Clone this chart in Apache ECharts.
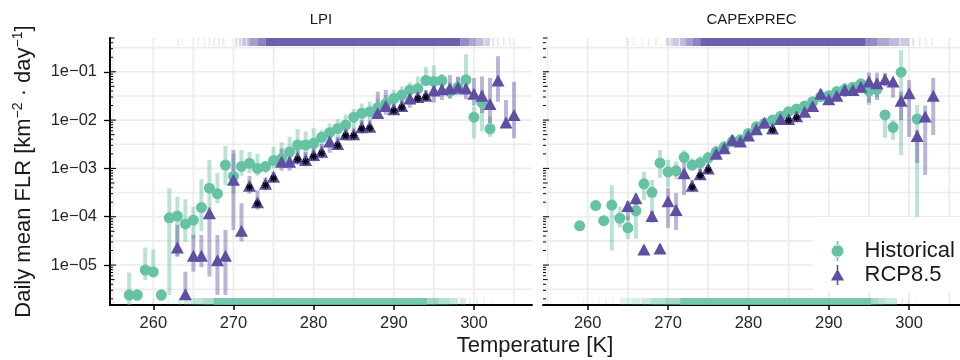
<!DOCTYPE html>
<html>
<head>
<meta charset="utf-8">
<script src="https://cdn.jsdelivr.net/npm/echarts@6/dist/echarts.min.js"></script>
<style>
  html, body { margin: 0; padding: 0; background: #ffffff; }
  #chart { width: 960px; height: 360px; }
</style>
</head>
<body>
<div id="chart"></div>
<script>
// ---------- LPI panel ----------
const lpiHistTemp = [257,258,259,260,261,262,263,264,265,266,267,268,269,270,271,272,273,274,275,276,277,278,279,280,281,282,283,284,285,286,287,288,289,290,291,292,293,294,295,296,297,298,299,300,301,302];
const lpiHistFlr  = [2.4e-6,2.4e-6,7.9e-6,7.2e-6,2.4e-6,9.5e-5,1.03e-4,7.1e-5,8.5e-5,1.55e-4,3.9e-4,3.0e-4,1.17e-3,6.9e-4,1.1e-3,1.28e-3,1.0e-3,1.1e-3,1.45e-3,1.6e-3,2.2e-3,3.05e-3,3.05e-3,3.3e-3,4.4e-3,5.5e-3,6.7e-3,7.9e-3,1.15e-2,1.38e-2,1.49e-2,1.8e-2,2.2e-2,2.8e-2,3.3e-2,4.2e-2,4.5e-2,6.6e-2,6.3e-2,6.6e-2,3.9e-2,4.8e-2,6.8e-2,1.15e-2,2.3e-2,6.6e-3];
const lpiHistLow  = [1.0e-6,1.8e-6,4.9e-6,5.6e-6,1.8e-6,2.4e-6,1.5e-5,3.0e-5,3.5e-5,5e-5,1.6e-4,1.9e-4,4.5e-4,3.0e-4,7e-4,8e-4,7e-4,8e-4,1.0e-3,1.1e-3,1.5e-3,1.8e-3,1.5e-3,1.75e-3,2.2e-3,3.2e-3,3.9e-3,5e-3,7e-3,8.5e-3,1.0e-2,1.2e-2,1.5e-2,1.9e-2,2.3e-2,3.0e-2,3.2e-2,5.3e-2,4.5e-2,5e-2,2.8e-2,3.5e-2,4.6e-2,4.2e-3,5.8e-3,4.5e-3];
const lpiHistHigh = [7e-6,3.2e-6,2.3e-5,2.1e-5,3.2e-6,3.9e-4,2.6e-4,2.3e-4,1.6e-4,6e-4,1.5e-3,8e-4,2.9e-3,2.0e-3,2.4e-3,2.2e-3,2.0e-3,1.4e-3,2.8e-3,3.5e-3,4.5e-3,6.5e-3,5.8e-3,6.8e-3,6.2e-3,8.5e-3,1.05e-2,1.3e-2,1.7e-2,2.2e-2,2.4e-2,2.8e-2,3.3e-2,4.2e-2,5e-2,6e-2,8e-2,1.25e-1,1.35e-1,9e-2,6e-2,8e-2,2.3e-1,1.9e-2,4.2e-2,1.2e-2];

const lpiRcpTemp = [263,264,265,266,267,268,269,270,271,272,273,274,275,276,277,278,279,280,281,282,283,284,285,286,287,288,289,290,291,292,293,294,295,296,297,298,299,300,301,302,303,304,305];
const lpiRcpFlr  = [2.3e-5,2.5e-6,1.55e-5,1.55e-5,1.18e-4,1.26e-5,1.55e-5,5.8e-4,5.1e-5,4.4e-4,2.0e-4,4.8e-4,6.7e-4,1.38e-3,1.38e-3,1.66e-3,1.5e-3,1.9e-3,2.2e-3,3.6e-3,3.2e-3,5.1e-3,5.1e-3,7.1e-3,7.3e-3,1.4e-2,1.96e-2,1.67e-2,1.96e-2,2.8e-2,3.0e-2,3.2e-2,4.1e-2,4.35e-2,4.5e-2,4.8e-2,4.5e-2,3.5e-2,3.2e-2,2.15e-2,6.6e-2,8.9e-3,1.28e-2];
const lpiRcpLow  = [1.5e-5,1.9e-6,7.3e-6,9e-6,5.8e-6,2.4e-6,2.4e-6,5.3e-5,3.1e-5,3.0e-4,1.4e-4,3.5e-4,5.5e-4,9e-4,9e-4,1.2e-3,1.1e-3,1.4e-3,1.6e-3,2.1e-3,2.4e-3,3.8e-3,3.8e-3,5.3e-3,5.5e-3,1.1e-2,1.3e-2,1.3e-2,1.5e-2,1.8e-2,2.3e-2,2.5e-2,2.3e-2,2.6e-2,2.8e-2,3.3e-2,2.7e-2,2.0e-2,1.4e-2,8.7e-3,2.4e-2,7e-3,4.2e-3];
const lpiRcpHigh = [6.8e-5,7.3e-6,4.2e-5,4.2e-5,1.6e-4,4.2e-5,5.3e-5,2.4e-3,1.9e-4,7e-4,3.5e-4,6.5e-4,8.5e-4,2.6e-3,2.4e-3,2.5e-3,2.2e-3,2.8e-3,3.2e-3,6.9e-3,4.5e-3,7e-3,7e-3,1.0e-2,1.0e-2,3.9e-2,4.2e-2,2.3e-2,2.7e-2,5e-2,4e-2,4.2e-2,7.9e-2,8.5e-2,8.5e-2,7.8e-2,7e-2,7.4e-2,8e-2,7.5e-2,2.1e-1,2.6e-2,6.2e-2];
// temperatures where the RCP8.5 change is significant (asterisk)
const lpiRcpSignif = [272,273,274,275,278,279,280,281,283,284,285,286,287,290,291,293,294];

// ---------- CAPExPREC panel ----------
const capeHistTemp = [259,261,262,263,264,265,266,267,268,269,270,271,272,273,274,275,276,277,278,279,280,281,282,283,284,285,286,287,288,289,290,291,292,293,294,295,296,297,298,299,301];
const capeHistFlr  = [6.5e-5,1.7e-4,8.3e-5,1.74e-4,9.3e-5,5.9e-5,1.33e-4,4.8e-4,3.2e-4,1.3e-3,8.5e-4,8.9e-4,1.7e-3,1.17e-3,1.3e-3,1.66e-3,2.2e-3,2.8e-3,3.6e-3,3.9e-3,5.3e-3,7.3e-3,8.5e-3,1.0e-2,1.2e-2,1.49e-2,1.7e-2,1.96e-2,2.4e-2,3.05e-2,3.2e-2,3.9e-2,4.3e-2,4.8e-2,5.6e-2,4.0e-2,4.35e-2,1.28e-2,7.1e-3,9.8e-2,1.05e-2];
const capeHistLow  = [5.5e-5,1.45e-4,7e-5,2.0e-5,6e-5,3.5e-5,3.5e-5,2.2e-4,7.4e-5,6.4e-4,4.1e-4,6e-4,1.3e-3,9e-4,1.0e-3,1.3e-3,1.7e-3,2.2e-3,2.8e-3,3.1e-3,4.2e-3,5.8e-3,6.8e-3,8e-3,9.5e-3,1.2e-2,1.35e-2,1.55e-2,1.9e-2,2.4e-2,2.5e-2,3.1e-2,3.4e-2,3.8e-2,4.3e-2,2.05e-2,3e-2,4.3e-3,3.9e-3,1.9e-3,1.0e-4];
const capeHistHigh = [7.7e-5,2.0e-4,9.8e-5,4.5e-4,1.6e-4,1.0e-4,2.6e-4,8.5e-4,5.8e-4,2.4e-3,1.5e-3,1.4e-3,2.4e-3,1.6e-3,1.8e-3,2.2e-3,2.9e-3,3.6e-3,4.6e-3,5e-3,6.7e-3,9.2e-3,1.07e-2,1.25e-2,1.5e-2,1.85e-2,2.1e-2,2.5e-2,3.0e-2,3.9e-2,4.1e-2,5e-2,5.5e-2,6.1e-2,7.3e-2,5.3e-2,6e-2,1.6e-2,1.0e-2,2.8e-1,2.05e-2];

const capeRcpTemp = [265,266,267,268,269,270,271,272,273,274,275,276,277,278,279,280,281,282,283,284,285,286,287,288,289,290,291,292,293,294,295,296,297,298,299,300,301,302,303];
const capeRcpFlr  = [1.66e-4,2.4e-4,2.1e-5,1.03e-4,2.2e-5,2.1e-4,1.38e-4,7.9e-4,4.4e-4,7.6e-4,1.0e-3,2.0e-3,2.6e-3,3.9e-3,3.6e-3,4.8e-3,6.5e-3,8.9e-3,6.7e-3,1.05e-2,1.05e-2,1.2e-2,1.49e-2,1.96e-2,3.5e-2,2.7e-2,3.2e-2,4.2e-2,4.2e-2,4.9e-2,6.3e-2,5.8e-2,7.0e-2,6.3e-2,2.5e-2,3.6e-2,4.7e-3,1.18e-2,3.2e-2];
const capeRcpLow  = [8.5e-5,1.7e-4,1.8e-5,8e-5,1.9e-5,5.8e-5,5.3e-5,2.8e-4,3.3e-4,5.8e-4,8e-4,1.6e-3,2.1e-3,3.1e-3,2.9e-3,3.9e-3,5.2e-3,7.1e-3,5.4e-3,8.4e-3,8.5e-3,9.7e-3,1.2e-2,1.6e-2,2.6e-2,2.1e-2,2.5e-2,3.0e-2,3.2e-2,3.6e-2,2.3e-2,2.6e-2,5.0e-2,2.9e-2,1.0e-2,4.5e-3,1.3e-3,7.3e-4,4.9e-3];
const capeRcpHigh = [2.1e-4,3.0e-4,2.5e-5,1.3e-4,2.6e-5,3.9e-4,3.1e-4,1.5e-3,5.8e-4,1.0e-3,1.25e-3,2.5e-3,3.2e-3,4.9e-3,4.5e-3,6e-3,8.1e-3,1.1e-2,8.3e-3,1.3e-2,1.3e-2,1.5e-2,1.85e-2,2.45e-2,4.4e-2,3.5e-2,4.2e-2,5.8e-2,5.5e-2,6.5e-2,9.6e-2,9.6e-2,9.5e-2,7e-2,3.9e-2,6.7e-2,6.2e-3,2.0e-2,7.5e-2];
const capeRcpSignif = [273,274,275,283,285,286];

// ---------- rug: temperature bands [from, to, relative density of days] ----------
const lpiRcpRug = [[263.0,263.2,0.12],[263.5,263.6,0.08],[265.5,265.7,0.1],[266.3,266.5,0.1],[266.9,267.1,0.12],[267.5,267.7,0.1],[268.1,268.3,0.12],[268.6,268.9,0.1],[270.2,270.5,0.2],[270.7,271.0,0.25],[271.1,271.6,0.35],[271.7,272.0,0.4],[272.0,273.0,0.55],[273.0,274.0,0.7],[274.0,298.3,0.9],[298.3,299.4,0.65],[299.4,300.3,0.5],[300.3,301.2,0.38],[301.3,302.0,0.28],[302.3,302.5,0.2],[302.9,303.1,0.15],[303.6,303.8,0.12],[304.4,304.6,0.12]];
const lpiHistRug = [[258.7,258.9,0.1],[259.8,260.0,0.12],[260.8,261.0,0.12],[261.7,262.0,0.15],[262.4,262.6,0.15],[263.0,263.6,0.22],[263.8,265.0,0.3],[265.0,266.2,0.42],[266.2,267.5,0.55],[267.5,294.2,0.9],[294.2,295.6,0.65],[295.6,297.0,0.5],[297.0,298.0,0.38],[298.2,299.0,0.28],[299.4,299.6,0.2],[300.3,300.5,0.2],[301.2,301.4,0.15],[302.2,302.4,0.12]];
const capeRcpRug = [[264.8,265.0,0.1],[265.6,265.8,0.08],[266.7,266.9,0.1],[267.5,267.7,0.1],[268.4,268.6,0.12],[269.7,270.2,0.2],[270.3,270.6,0.25],[270.6,271.4,0.32],[271.5,272.2,0.4],[272.2,273.1,0.55],[273.1,274.0,0.7],[274.0,294.6,0.9],[294.6,296.0,0.65],[296.0,297.5,0.5],[297.5,298.8,0.4],[298.9,300.0,0.3],[300.4,300.6,0.2],[301.2,301.4,0.15],[302.0,302.2,0.12],[302.8,303.0,0.12]];
const capeHistRug = [[259.4,259.6,0.12],[260.5,260.7,0.1],[261.3,261.5,0.12],[262.2,262.4,0.15],[263.0,263.2,0.12],[264.0,265.5,0.2],[265.5,266.6,0.28],[266.7,267.8,0.35],[267.8,269.6,0.5],[269.6,271.5,0.62],[271.5,295.3,0.9],[295.3,296.2,0.6],[296.2,297.0,0.48],[297.0,298.5,0.35],[299.0,299.2,0.2],[299.8,300.0,0.15],[300.7,300.9,0.12]];

// ---------- axes ----------
const xTickValues = [260, 270, 280, 290, 300];
const xGridValues = [255, 260, 265, 270, 275, 280, 285, 290, 295, 300, 305];
const yTickValues = [1e-5, 1e-4, 1e-3, 1e-2, 1e-1];
const yGridExponents = [-5.5, -5, -4.5, -4, -3.5, -3, -2.5, -2, -1.5, -1, -0.5];
const yMin = 1.49e-6, yMax = 0.5;

const GREEN = '#66C2A5';
const PURPLE = '#5E4FA2';
const GREEN_BAR = 'rgba(102,194,165,0.45)';
const PURPLE_BAR = 'rgba(94,79,162,0.42)';
const FONT = '"Liberation Sans", Arial, Helvetica, sans-serif';
const INK = '#1a1a1a';

const zip2 = (a, b) => a.map((t, i) => [t, b[i]]);
const zipBars = (t, lo, hi) => t.map((v, i) => [v, lo[i], hi[i]]);
const pick = (temps, vals, sel) => sel.map(t => [t, vals[temps.indexOf(t)]]);

// log tick annotations: 1..9 x 10^e
const logTicks = [];
for (let e = -6; e <= -1; e++) {
  for (let k = 1; k <= 9; k++) {
    const v = k * Math.pow(10, e);
    if (v >= yMin && v <= yMax) logTicks.push([280, v, k]);
  }
}

function renderGrid(params, api) {
  const cs = params.coordSys;
  const kids = [];
  const st = { stroke: '#EBEBEB', lineWidth: 1.6 };
  xGridValues.forEach(t => {
    const x = api.coord([t, 1e-3])[0];
    if (x > cs.x + 1 && x <= cs.x + cs.width) {
      kids.push({ type: 'line', shape: { x1: x, y1: cs.y, x2: x, y2: cs.y + cs.height }, style: st });
    }
  });
  yGridExponents.forEach(e => {
    const y = api.coord([280, Math.pow(10, e)])[1];
    kids.push({ type: 'line', shape: { x1: cs.x, y1: y, x2: cs.x + cs.width, y2: y }, style: st });
  });
  return { type: 'group', children: kids };
}

function barRenderer(color) {
  return function (params, api) {
    const cs = params.coordSys;
    const t = api.value(0);
    const p1 = api.coord([t, api.value(1)]);
    const p2 = api.coord([t, api.value(2)]);
    const top = Math.max(Math.min(p1[1], p2[1]), cs.y);
    const bot = Math.min(Math.max(p1[1], p2[1]), cs.y + cs.height);
    return { type: 'rect', shape: { x: p1[0] - 2, y: top, width: 4, height: Math.max(bot - top, 0) }, style: { fill: color } };
  };
}

function rugRenderer(color, atTop) {
  return function (params, api) {
    const cs = params.coordSys;
    const x0 = api.coord([api.value(0), 1e-3])[0];
    const x1 = api.coord([api.value(1), 1e-3])[0];
    const d = api.value(2);
    const h = atTop ? 8 : 7;
    const y = atTop ? cs.y : cs.y + cs.height - h;
    return { type: 'rect', shape: { x: x0, y: y, width: Math.max(x1 - x0, 1), height: h }, style: { fill: color, opacity: d } };
  };
}

function renderStar(params, api) {
  const p = api.coord([api.value(0), api.value(1)]);
  const cx = p[0], cy = p[1] + 1.5, r = 3.6;
  const kids = [];
  for (let k = 0; k < 4; k++) {
    const a = k * Math.PI / 4;
    kids.push({ type: 'line', shape: { x1: cx - r * Math.cos(a), y1: cy - r * Math.sin(a), x2: cx + r * Math.cos(a), y2: cy + r * Math.sin(a) }, style: { stroke: '#000', lineWidth: 1.3 } });
  }
  return { type: 'group', children: kids };
}

function renderLogTick(params, api) {
  const cs = params.coordSys;
  const y = api.coord([280, api.value(1)])[1];
  const k = api.value(2);
  const len = k === 1 ? 6 : (k === 5 ? 4.5 : 3);
  return { type: 'line', shape: { x1: cs.x, y1: y, x2: cs.x + len, y2: y }, style: { stroke: '#000', lineWidth: 1 } };
}

function panelSeries(idx, hist, rcp) {
  const ax = { xAxisIndex: idx, yAxisIndex: idx };
  return [
    Object.assign({ type: 'custom', name: 'grid' + idx, renderItem: renderGrid, data: [[280, 1e-3]], z: 0, silent: true }, ax),
    Object.assign({ type: 'custom', name: 'rugTop' + idx, renderItem: rugRenderer(PURPLE, true), data: rcp.rug, encode: { x: [0, 1], y: 2 }, z: 1, silent: true }, ax),
    Object.assign({ type: 'custom', name: 'rugBottom' + idx, renderItem: rugRenderer(GREEN, false), data: hist.rug, encode: { x: [0, 1], y: 2 }, z: 1, silent: true }, ax),
    Object.assign({ type: 'custom', name: 'histBars' + idx, renderItem: barRenderer(GREEN_BAR), data: zipBars(hist.t, hist.lo, hist.hi), encode: { x: 0, y: [1, 2] }, z: 2, silent: true }, ax),
    Object.assign({ type: 'custom', name: 'rcpBars' + idx, renderItem: barRenderer(PURPLE_BAR), data: zipBars(rcp.t, rcp.lo, rcp.hi), encode: { x: 0, y: [1, 2] }, z: 2, silent: true }, ax),
    Object.assign({ type: 'scatter', name: 'Historical', data: zip2(hist.t, hist.v), symbol: 'circle', symbolSize: 11, itemStyle: { color: GREEN, opacity: 1 }, z: 3 }, ax),
    Object.assign({ type: 'scatter', name: 'RCP8.5', data: zip2(rcp.t, rcp.v), symbol: 'triangle', symbolSize: [13, 12], itemStyle: { color: PURPLE, opacity: 1 }, z: 4 }, ax),
    Object.assign({ type: 'custom', name: 'signif' + idx, renderItem: renderStar, data: pick(rcp.t, rcp.v, rcp.sig), encode: { x: 0, y: 1 }, z: 5, silent: true }, ax),
    Object.assign({ type: 'custom', name: 'logticks' + idx, renderItem: renderLogTick, data: logTicks, encode: { x: 0, y: 1 }, z: 6, silent: true }, ax)
  ];
}

const xAxisBase = {
  type: 'value',
  splitLine: { show: false },
  axisLine: { show: true, onZero: false, lineStyle: { color: '#000', width: 2 } },
  axisTick: { show: true, length: 5, customValues: xTickValues, lineStyle: { color: '#000', width: 1.5 } },
  axisLabel: { show: true, customValues: xTickValues, fontSize: 16.5, color: '#262626', margin: 10, fontFamily: FONT }
};

const supLabel = v => '1e\u22120' + Math.round(-Math.log10(v));

const option = {
  animation: false,
  textStyle: { fontFamily: FONT },
  grid: [
    { left: 110, top: 38, width: 422, height: 267, outerBoundsMode: 'none', containLabel: false },
    { left: 543, top: 38, width: 417, height: 267, outerBoundsMode: 'none', containLabel: false }
  ],
  xAxis: [
    Object.assign({}, xAxisBase, { gridIndex: 0, min: 254.6, max: 307.24 }),
    Object.assign({}, xAxisBase, { gridIndex: 1, min: 254.44, max: 306.33 })
  ],
  yAxis: [
    {
      type: 'log', logBase: 10, gridIndex: 0, min: yMin, max: yMax,
      splitLine: { show: false },
      axisLine: { show: true, lineStyle: { color: '#000', width: 2 } },
      axisTick: { show: true, length: 6, customValues: yTickValues, lineStyle: { color: '#000', width: 1.3 } },
      axisLabel: { show: true, customValues: yTickValues, formatter: supLabel, fontSize: 16.5, color: '#262626', margin: 13, fontFamily: FONT },
      name: '{a|Daily mean FLR [km}{s|\u22122}{a| \u00b7 day}{s|\u22121}{a|]}',
      nameLocation: 'middle',
      nameGap: 72,
      nameTextStyle: {
        rich: {
          a: { fontSize: 22, color: INK, fontFamily: FONT, lineHeight: 28 },
          s: { fontSize: 14, color: INK, fontFamily: FONT, lineHeight: 16, padding: [0, 0, 12, 0] }
        }
      }
    },
    {
      type: 'log', logBase: 10, gridIndex: 1, min: yMin, max: yMax,
      show: false,
      splitLine: { show: false }
    }
  ],
  legend: {
    orient: 'vertical',
    left: 813, top: 217,
    padding: [23, 8, 6, 18],
    itemGap: 2,
    itemWidth: 14, itemHeight: 20,
    backgroundColor: '#ffffff',
    selectedMode: false,
    textStyle: { fontSize: 22, color: INK, fontFamily: FONT, padding: [0, 0, 0, 15] },
    data: [
      { name: 'Historical', icon: 'path://M6.2,0h1.6v5h-1.6z M6.2,15h1.6v5h-1.6z M7,4a6,6 0 1,0 0.001,0z', itemStyle: { color: GREEN } },
      { name: 'RCP8.5', icon: 'path://M6.2,0h1.6v5h-1.6z M6.2,15h1.6v5h-1.6z M7,4L13.5,15.5L0.5,15.5z', itemStyle: { color: PURPLE } }
    ]
  },
  graphic: [
    { type: 'text', x: 321, y: 20, style: { text: 'LPI', fontSize: 15, fontFamily: FONT, fill: INK, align: 'center', verticalAlign: 'middle' } },
    { type: 'text', x: 751.5, y: 20, style: { text: 'CAPExPREC', fontSize: 15, fontFamily: FONT, fill: INK, align: 'center', verticalAlign: 'middle' } },
    { type: 'text', x: 535, y: 346, style: { text: 'Temperature [K]', fontSize: 22, fontFamily: FONT, fill: INK, align: 'center', verticalAlign: 'middle' } }
  ],
  series: [].concat(
    panelSeries(0,
      { t: lpiHistTemp, v: lpiHistFlr, lo: lpiHistLow, hi: lpiHistHigh, rug: lpiHistRug },
      { t: lpiRcpTemp, v: lpiRcpFlr, lo: lpiRcpLow, hi: lpiRcpHigh, sig: lpiRcpSignif, rug: lpiRcpRug }),
    panelSeries(1,
      { t: capeHistTemp, v: capeHistFlr, lo: capeHistLow, hi: capeHistHigh, rug: capeHistRug },
      { t: capeRcpTemp, v: capeRcpFlr, lo: capeRcpLow, hi: capeRcpHigh, sig: capeRcpSignif, rug: capeRcpRug })
  )
};

const chart = echarts.init(document.getElementById('chart'), null, { renderer: 'canvas' });
chart.setOption(option);
</script>
</body>
</html>
